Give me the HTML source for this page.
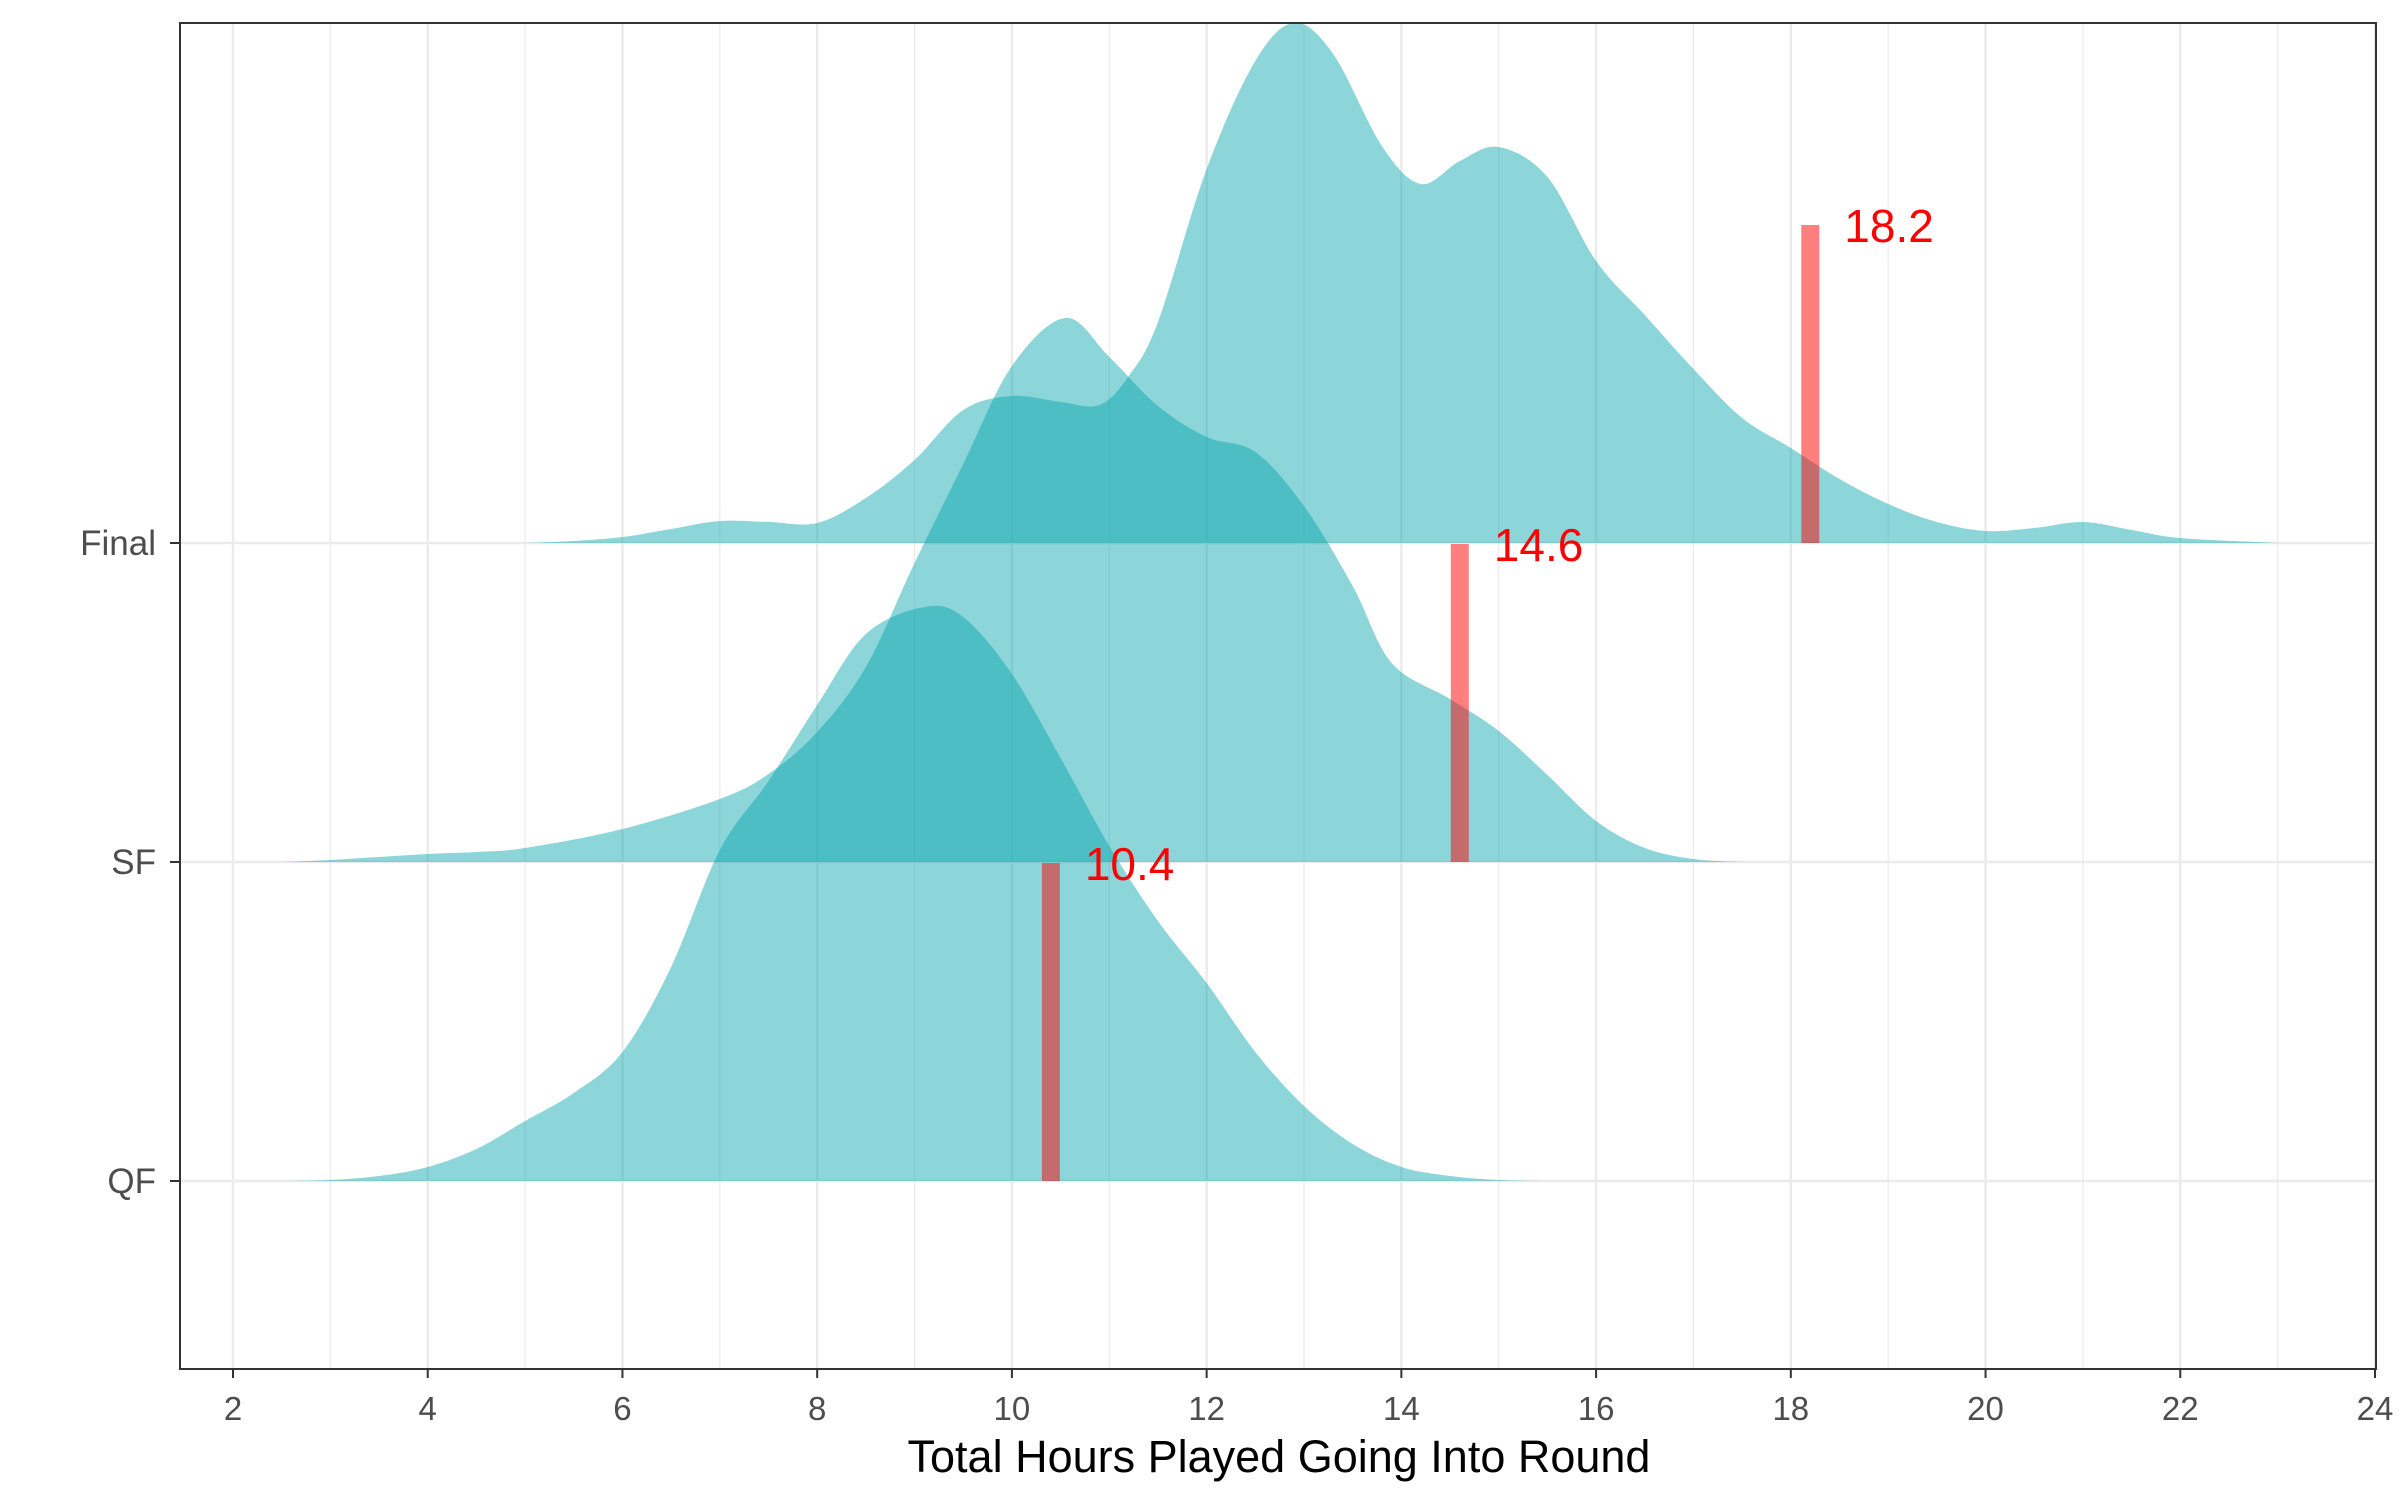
<!DOCTYPE html>
<html><head><meta charset="utf-8"><style>
html,body{margin:0;padding:0;background:#fff}
svg{display:block}
text{font-family:"Liberation Sans",Arial,sans-serif}
</style></head><body>
<svg id="chart" width="2400" height="1500" viewBox="0 0 2400 1500" xmlns="http://www.w3.org/2000/svg">
<g id="grid"></g>
<g id="ridges"></g>
<g id="bars"></g>
<rect x="180" y="23" width="2196" height="1346" fill="none" stroke="#333" stroke-width="2"/>
<g id="axes"></g>
<text x="1279" y="1472" font-size="45" text-anchor="middle" fill="#000">Total Hours Played Going Into Round</text>
</svg>
<script>
const categories = ["QF", "SF", "Final"];
const xTicks = [2,4,6,8,10,12,14,16,18,20,22,24];
const medians = [10.4, 14.6, 18.2];
const medianLabels = ["10.4", "14.6", "18.2"];
const qfX = [2.5,3,3.5,4,4.5,5,5.5,6,6.5,7,7.5,8,8.5,9.1,9.5,10,10.5,11,11.5,12,12.5,13,13.5,14,14.5,15,15.5];
const qfH = [0,1,5,14,32,60,88,129,214,331,400,476,547,574,564,507,423,335,260,198,129,75,37,14,5,1,0];
const sfX = [2.5,3,4,4.5,5,6,7,7.5,8,8.5,9,9.5,10,10.55,11,11.5,12,12.5,13,13.5,13.9,14.5,15,15.5,16,16.5,17,17.5];
const sfH = [0,2,8,10,14,33,63,88,130,195,299,398,496,544,505,456,425,410,356,276,199,163,131,87,41,14,3,0];
const finalX = [5,5.5,6,6.5,7,7.5,8,8.5,9,9.5,10,10.5,10.9,11.2,11.5,12,12.5,12.9,13.3,13.8,14.2,14.6,15,15.5,16,16.5,17,17.5,18,18.5,19,19.5,20,20.5,21,21.5,22,23];
const finalH = [0,2,6,14,22,21,20,45,83,133,147,141,138,167,221,374,482,520,489,397,359,382,396,366,282,228,174,125,95,64,39,21,12,15,21,13,5,0];

const NS = "http://www.w3.org/2000/svg";
const X0 = 233, XU = (2375 - 233) / 22;
const xs = v => X0 + (v - 2) * XU;
const baseY = [1181, 862, 543];
const ys = (i, h) => baseY[i] - h;

function mk(tag, attrs, parent) {
  const e = document.createElementNS(NS, tag);
  for (const k in attrs) e.setAttribute(k, attrs[k]);
  parent.appendChild(e);
  return e;
}
const grid = document.getElementById('grid');
for (let v = 3; v <= 23; v += 2) {
  const l = mk('line', {x1: xs(v), x2: xs(v), y1: 23, y2: 1369, stroke: '#ebebeb', 'stroke-width': 1.2}, grid);
  
  
}
xTicks.forEach(v => {
  const l = mk('line', {x1: xs(v), x2: xs(v), y1: 23, y2: 1369, stroke: '#ebebeb', 'stroke-width': 2.4}, grid);
  
  
});
categories.forEach((c, i) => {
  const l = mk('line', {x1: 180, x2: 2376, y1: baseY[i], y2: baseY[i], stroke: '#ebebeb', 'stroke-width': 2.4}, grid);
  
  
});

function smoothPath(px, py) {
  let d = `M${px[0]},${py[0]}`;
  for (let i = 0; i < px.length - 1; i++) {
    const x0 = px[Math.max(0, i - 1)], y0 = py[Math.max(0, i - 1)];
    const x1 = px[i], y1 = py[i], x2 = px[i + 1], y2 = py[i + 1];
    const x3 = px[Math.min(px.length - 1, i + 2)], y3 = py[Math.min(px.length - 1, i + 2)];
    const c1x = x1 + (x2 - x0) / 6, c1y = y1 + (y2 - y0) / 6;
    const c2x = x2 - (x3 - x1) / 6, c2y = y2 - (y3 - y1) / 6;
    d += ` C${c1x},${c1y} ${c2x},${c2y} ${x2},${y2}`;
  }
  return d;
}
const ridges = document.getElementById('ridges');
const series = [[finalX, finalH, 2, 'ridge-final'], [sfX, sfH, 1, 'ridge-sf'], [qfX, qfH, 0, 'ridge-qf']];
series.forEach(([sx, sh, idx, name]) => {
  const px = sx.map(xs), py = sh.map(h => ys(idx, h));
  let d = smoothPath(px, py) + ` L${px[px.length - 1]},${baseY[idx]} L${px[0]},${baseY[idx]} Z`;
  const p = mk('path', {d: d, fill: 'rgba(0,165,170,0.45)', stroke: 'none'}, ridges);
  
  
});

const bars = document.getElementById('bars');
medians.forEach((m, i) => {
  const r = mk('rect', {x: xs(m) - 9, y: baseY[i] - 318, width: 18, height: 318, fill: 'rgba(255,0,0,0.5)'}, bars);
  
  
  const t = mk('text', {x: xs(m) + 34, y: baseY[i] - 318 + 17, 'font-size': 46, fill: '#ff0000'}, bars);
  t.textContent = medianLabels[i];
  
  
});

const axes = document.getElementById('axes');
xTicks.forEach(v => {
  const l = mk('line', {x1: xs(v), x2: xs(v), y1: 1369, y2: 1378, stroke: '#333', 'stroke-width': 2}, axes);
  
  
  const t = mk('text', {x: xs(v), y: 1420, 'font-size': 33, 'text-anchor': 'middle', fill: '#4d4d4d'}, axes);
  t.textContent = v;
  
  
});
categories.forEach((c, i) => {
  const l = mk('line', {x1: 170, x2: 180, y1: baseY[i], y2: baseY[i], stroke: '#333', 'stroke-width': 2}, axes);
  
  
  const t = mk('text', {x: 156, y: baseY[i] + 12, 'font-size': 35, 'text-anchor': 'end', fill: '#4d4d4d'}, axes);
  t.textContent = c;
  
  
});
</script>
</body></html>
